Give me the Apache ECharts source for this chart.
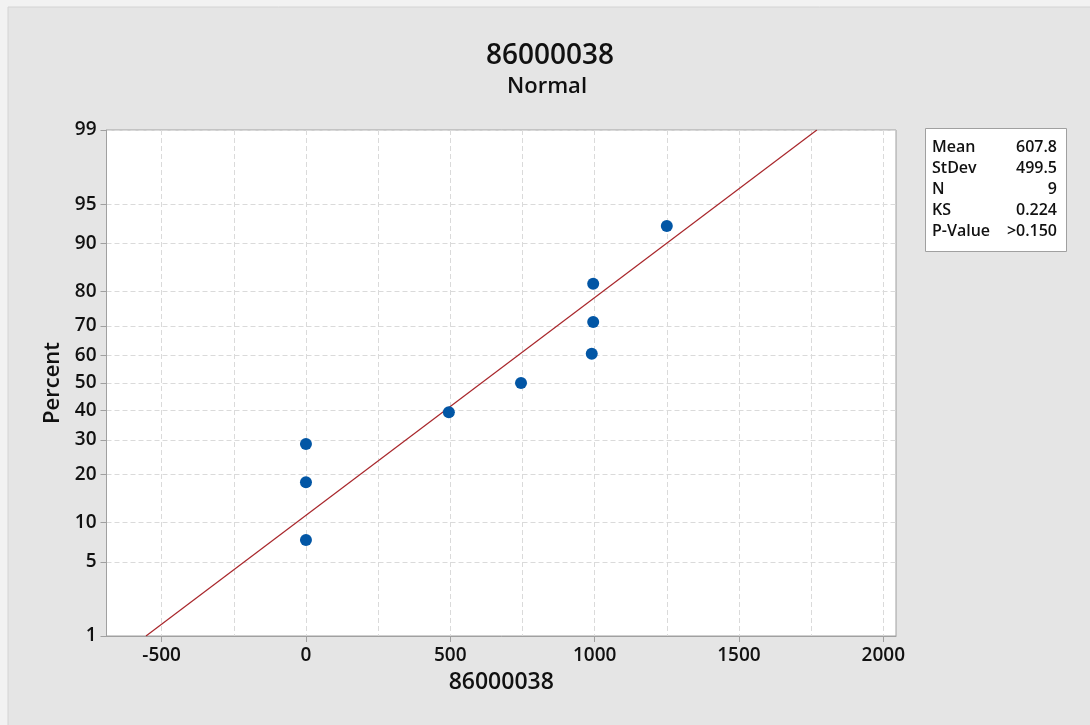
<!DOCTYPE html>
<html>
<head>
<meta charset="utf-8">
<script src="https://cdn.jsdelivr.net/npm/echarts@6/dist/echarts.min.js"></script>
<style>
  html, body { margin: 0; padding: 0; background: #e5e5e5; }
  #chart { width: 1090px; height: 725px; }
</style>
</head>
<body>
<div id="chart"></div>
<script>
// data
const dataValues = [0, 0, 0, 495, 745, 990, 995, 995, 1250];
const dataPercents = [7.45, 18.09, 28.72, 39.36, 50, 60.64, 71.28, 81.91, 92.55];
const fitMean = 607.8;
const fitStDev = 499.5;
const fitPercents = [1, 99];
const percentTicks = [1, 5, 10, 20, 30, 40, 50, 60, 70, 80, 90, 95, 99];
const xLabelTicks = [-500, 0, 500, 1000, 1500, 2000];
const xGridTicks = [-500, -250, 0, 250, 500, 750, 1000, 1250, 1500, 1750, 2000];
const statLabels = ['Mean', 'StDev', 'N', 'KS', 'P-Value'];
const statValues = ['607.8', '499.5', '9', '0.224', '>0.150'];

const FONT = "'Open Sans', 'Noto Sans', sans-serif";

// inverse normal cdf (Acklam) - probability axis transform
function normInv(p) {
  const a = [-3.969683028665376e+01, 2.209460984245205e+02, -2.759285104469687e+02, 1.383577518672690e+02, -3.066479806614716e+01, 2.506628277459239e+00];
  const b = [-5.447609879822406e+01, 1.615858368580409e+02, -1.556989798598866e+02, 6.680131188771972e+01, -1.328068155288572e+01];
  const c = [-7.784894002430293e-03, -3.223964580411365e-01, -2.400758277161838e+00, -2.549732539343734e+00, 4.374664141464968e+00, 2.938163982698783e+00];
  const d = [7.784695709041462e-03, 3.224671290700398e-01, 2.445134137142996e+00, 3.754408661907416e+00];
  const pl = 0.02425;
  let q, r;
  if (p < pl) {
    q = Math.sqrt(-2 * Math.log(p));
    return (((((c[0] * q + c[1]) * q + c[2]) * q + c[3]) * q + c[4]) * q + c[5]) / ((((d[0] * q + d[1]) * q + d[2]) * q + d[3]) * q + 1);
  }
  if (p > 1 - pl) {
    q = Math.sqrt(-2 * Math.log(1 - p));
    return -(((((c[0] * q + c[1]) * q + c[2]) * q + c[3]) * q + c[4]) * q + c[5]) / ((((d[0] * q + d[1]) * q + d[2]) * q + d[3]) * q + 1);
  }
  q = p - 0.5;
  r = q * q;
  return (((((a[0] * r + a[1]) * r + a[2]) * r + a[3]) * r + a[4]) * r + a[5]) * q / (((((b[0] * r + b[1]) * r + b[2]) * r + b[3]) * r + b[4]) * r + 1);
}

const zTicks = percentTicks.map(p => normInv(p / 100));
const zMin = zTicks[0];
const zMax = zTicks[zTicks.length - 1];

const pointData = dataValues.map((v, i) => [v, normInv(dataPercents[i] / 100)]);
const fitData = fitPercents.map(p => {
  const z = normInv(p / 100);
  return [fitMean + fitStDev * z, z];
});

const chart = echarts.init(document.getElementById('chart'));

const statTexts = [];
statLabels.forEach((label, i) => {
  const y = 147 + i * 21.2;
  statTexts.push({
    type: 'text', x: 932, y: y,
    style: { text: label, font: '600 16px ' + FONT, fill: '#111', align: 'left', verticalAlign: 'middle' }
  });
  statTexts.push({
    type: 'text', x: 1057, y: y,
    style: { text: statValues[i], font: '600 16px ' + FONT, fill: '#111', align: 'right', verticalAlign: 'middle' }
  });
});

const axisGray = '#a0a0a0';
const gridDash = { color: '#dadada', width: 1, type: [5, 3] };

const options = {
  backgroundColor: '#e5e5e5',
  animation: false,
  grid: {
    left: 106.5,
    top: 130,
    width: 789.5,
    height: 506,
    show: true,
    backgroundColor: '#ffffff',
    borderColor: axisGray,
    borderWidth: 1
  },
  xAxis: [
    {
      type: 'value',
      min: -691,
      max: 2044,
      position: 'bottom',
      axisLine: { show: true, onZero: false, lineStyle: { color: axisGray } },
      axisTick: { show: false, customValues: xGridTicks },
      axisLabel: { show: false },
      splitLine: { show: true, lineStyle: gridDash }
    },
    {
      type: 'value',
      min: -691,
      max: 2044,
      position: 'bottom',
      name: '86000038',
      nameLocation: 'middle',
      nameGap: 35,
      nameTextStyle: { color: '#111', fontFamily: FONT, fontSize: 23, fontWeight: 600 },
      axisLine: { show: false, onZero: false },
      axisTick: { show: true, customValues: xLabelTicks, length: 6, lineStyle: { color: axisGray } },
      axisLabel: {
        customValues: xLabelTicks,
        color: '#111',
        fontFamily: FONT,
        fontSize: 19,
        fontWeight: 600,
        margin: 10,
        formatter: function (v) { return String(v); }
      },
      splitLine: { show: false }
    }
  ],
  yAxis: [
    {
      type: 'value',
      min: zMin,
      max: zMax,
      name: 'Percent',
      nameLocation: 'middle',
      nameGap: 40,
      nameTextStyle: { color: '#111', fontFamily: FONT, fontSize: 22, fontWeight: 600 },
      axisLine: { show: true, onZero: false, lineStyle: { color: axisGray } },
      axisTick: { show: true, customValues: zTicks, length: 6, lineStyle: { color: axisGray } },
      axisLabel: {
        customValues: zTicks,
        color: '#111',
        fontFamily: FONT,
        fontSize: 19,
        fontWeight: 600,
        margin: 10,
        formatter: function (v) {
          for (let i = 0; i < zTicks.length; i++) {
            if (Math.abs(zTicks[i] - v) < 1e-6) return String(percentTicks[i]);
          }
          return '';
        }
      },
      splitLine: { show: true, lineStyle: gridDash }
    }
  ],
  graphic: [
    { type: 'rect', shape: { x: 0, y: 0, width: 1090, height: 7 }, style: { fill: '#f2f2f2' }, silent: true },
    { type: 'rect', shape: { x: 0, y: 0, width: 8, height: 725 }, style: { fill: '#f2f2f2' }, silent: true },
    { type: 'line', shape: { x1: 8, y1: 7, x2: 1090, y2: 7 }, style: { stroke: '#d4d4d4', lineWidth: 1 }, silent: true },
    { type: 'line', shape: { x1: 8, y1: 7, x2: 8, y2: 725 }, style: { stroke: '#d4d4d4', lineWidth: 1 }, silent: true },
    {
      type: 'text', x: 550, y: 56,
      style: { text: '86000038', font: '600 28px ' + FONT, fill: '#111', align: 'center', verticalAlign: 'middle' }
    },
    {
      type: 'text', x: 547, y: 87,
      style: { text: 'Normal', font: '600 22px ' + FONT, fill: '#111', align: 'center', verticalAlign: 'middle' }
    },
    {
      type: 'rect', shape: { x: 925.5, y: 128.5, width: 141, height: 123 },
      style: { fill: '#ffffff', stroke: axisGray, lineWidth: 1 }
    }
  ].concat(statTexts),
  series: [
    {
      name: 'Fit',
      type: 'line',
      xAxisIndex: 0,
      data: fitData,
      showSymbol: false,
      symbol: 'none',
      lineStyle: { color: '#a8262b', width: 1.2 },
      silent: true,
      z: 2
    },
    {
      name: '86000038',
      type: 'scatter',
      xAxisIndex: 0,
      data: pointData,
      symbolSize: 12,
      itemStyle: { color: '#0256a5', opacity: 1 },
      z: 3
    }
  ]
};

chart.setOption(options);
window.addEventListener('resize', () => {
  if (chart) {
    chart.resize();
  }
});
</script>
</body>
</html>
